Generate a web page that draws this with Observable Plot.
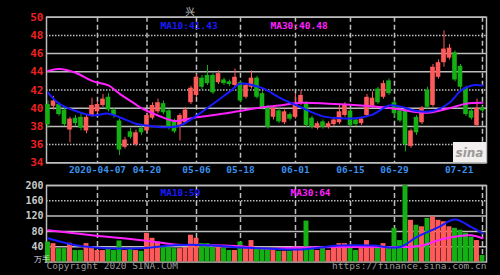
<!DOCTYPE html>
<html><head><meta charset="utf-8">
<script src="https://cdn.jsdelivr.net/npm/d3@7"></script>
<script src="https://cdn.jsdelivr.net/npm/@observablehq/plot@0.6"></script>
<style>
html,body{margin:0;padding:0;background:#000;}
#wrap{position:relative;width:500px;height:275px;overflow:hidden;background:#000;}
#main,#vol{position:absolute;left:0;}
#main{top:0}
#vol{top:175px}
#logo{position:absolute;left:453px;top:142px;width:33px;height:20px;background:#f3efef;font:italic bold 12px "DejaVu Sans",sans-serif;color:#9a9a9a;text-align:center;line-height:22px;}
</style></head><body>
<div id="wrap"><div id="main"></div><div id="vol"></div><div id="logo">sina</div></div>
<script>
const dates = ["2020-03-24","2020-03-25","2020-03-26","2020-03-27","2020-03-30","2020-03-31",
"2020-04-01","2020-04-02","2020-04-03","2020-04-07","2020-04-08","2020-04-09","2020-04-10","2020-04-13","2020-04-14","2020-04-15","2020-04-16","2020-04-17","2020-04-20","2020-04-21","2020-04-22","2020-04-23","2020-04-24","2020-04-27","2020-04-28","2020-04-29","2020-04-30",
"2020-05-06","2020-05-07","2020-05-08","2020-05-11","2020-05-12","2020-05-13","2020-05-14","2020-05-15","2020-05-18","2020-05-19","2020-05-20","2020-05-21","2020-05-22","2020-05-25","2020-05-26","2020-05-27","2020-05-28","2020-05-29",
"2020-06-01","2020-06-02","2020-06-03","2020-06-04","2020-06-05","2020-06-08","2020-06-09","2020-06-10","2020-06-11","2020-06-12","2020-06-15","2020-06-16","2020-06-17","2020-06-18","2020-06-19","2020-06-22","2020-06-23","2020-06-24","2020-06-29","2020-06-30",
"2020-07-01","2020-07-02","2020-07-03","2020-07-06","2020-07-07","2020-07-08","2020-07-09","2020-07-10","2020-07-13","2020-07-14","2020-07-15","2020-07-16","2020-07-17","2020-07-20","2020-07-21"];
const open = [40.4,40.2,40.4,39.8,37.6,38.9,39.0,37.5,39.2,39.6,
40.3,41.2,39.8,38.6,35.7,37.4,36.0,37.8,37.5,38.9,
39.6,40.5,39.7,38.6,38.1,38.4,40.6,41.4,43.3,43.6,
43.6,42.8,43.1,42.9,42.5,42.8,41.2,42.3,43.3,41.6,
40.1,39.0,39.7,38.4,39.3,39.0,40.5,40.5,38.9,37.8,
38.5,37.9,38.2,38.4,39.2,39.7,38.7,38.3,39.2,40.2,
42.1,41.2,43.0,40.6,39.7,39.8,35.8,39.0,38.4,42.0,
40.3,43.4,45.0,45.5,46.1,44.6,42.2,39.7,38.1,40.0];
const high = [40.8,41.3,40.6,40.0,39.0,39.2,39.4,39.3,41.1,40.7,
41.5,41.6,40.0,38.8,36.8,37.8,37.6,38.1,39.4,40.6,
41.0,40.8,39.9,38.8,39.4,40.1,42.4,43.7,43.6,44.7,
43.8,44.1,43.3,43.1,44.3,43.0,42.7,44.1,43.5,41.8,
40.3,40.3,40.0,39.8,39.5,41.6,41.9,40.7,39.1,38.5,
38.7,38.5,39.0,40.3,40.6,39.9,38.9,39.0,41.5,41.8,
42.3,43.0,43.2,40.8,39.9,40.0,37.7,39.2,40.2,42.3,
44.8,45.3,48.5,47.0,46.3,44.8,42.4,40.0,41.0,40.2];
const low = [37.8,39.8,39.1,38.0,36.2,38.0,37.5,37.2,39.0,39.4,
40.1,39.6,38.9,34.8,35.5,36.6,35.8,37.0,37.3,38.7,
39.4,39.3,37.6,37.2,36.4,38.2,40.4,41.2,42.0,42.5,
41.5,42.6,42.5,42.4,42.3,40.6,41.0,42.1,41.0,39.8,
37.7,38.7,38.3,38.2,38.6,38.8,40.3,37.9,37.7,37.6,
37.7,37.7,38.0,38.2,39.0,37.9,38.0,38.1,39.0,40.0,
40.4,41.0,41.4,39.0,38.4,35.2,35.6,37.0,38.2,39.9,
40.1,43.2,44.5,45.3,42.9,42.0,39.1,38.7,37.9,39.5];
const close = [38.2,40.8,39.3,38.2,38.8,38.3,37.8,39.0,40.3,40.4,
41.0,39.8,39.2,35.4,36.5,36.8,37.3,37.3,39.2,40.3,
40.6,39.5,37.9,37.4,39.2,39.8,42.2,43.4,42.3,42.7,
41.7,43.8,42.7,42.6,43.4,40.8,42.5,43.3,41.2,40.0,
37.9,40.0,38.5,39.6,38.8,40.5,41.4,38.1,37.9,38.3,
37.9,38.3,38.7,39.6,40.3,38.1,38.2,38.8,41.2,41.1,
40.6,42.7,41.6,39.4,38.6,36.0,37.5,37.3,40.0,40.1,
44.5,45.0,46.5,46.6,43.1,42.3,39.3,38.9,40.0,39.7];
const volume = [52,48,35,35,49,30,30,48,35,30,
30,36,30,55,30,35,30,28,75,62,
52,38,38,35,35,38,70,62,48,48,
38,38,35,30,30,52,35,56,38,38,
38,30,28,28,28,39,35,107,39,30,
39,30,39,48,48,39,30,35,56,39,
41,48,35,88,56,200,109,96,92,114,
118,109,105,92,88,83,75,65,56,17];

const ma10Idx = [0,2,5,8,11,13,16,18,21,24,28,33,35,39,42,46,50,53,56,59,62,64,67,70,73,75,77,79];
const ma10Val = [41.7,40.5,39.7,39.2,39.4,39.0,38.3,38.1,37.9,38.1,39.6,41.8,42.7,42.2,41.2,40.1,39.1,38.9,38.9,39.3,40.3,40.2,39.7,39.7,40.6,41.9,42.5,42.5];
const ma30Idx = [0,2,5,8,11,13,16,17,20,23,27,33,39,42,46,51,57,61,64,69,73,76,79];
const ma30Val = [44.1,44.3,43.9,43.0,42.5,41.6,40.4,40.0,39.2,38.6,39.0,39.5,40.1,40.3,40.6,40.5,40.3,40.1,39.85,39.5,40.0,40.5,40.6];
const vma10Idx = [0,5,11,17,23,29,35,40,46,53,59,64,67,71,74,77,79];
const vma10Val = [62,44,36,36,44,44,38,35,33,43,43,39,65,91,111,91,75];
const vma30Idx = [0,8,17,23,29,35,40,46,59,65,68,72,77,79];
const vma30Val = [83,70,57,46,44,41,35,38,39,39,43,61,70,62];

const priceTicks = [34,36,38,40,42,44,46,48,50];
const dottedPrice = [36,42,48];
const volTicks = [40,80,120,160,200];
const dottedVol = [160];
const tickIdx = [9,18,27,35,45,55,63,79];
const tickLabels = ["2020-04-07","04-20","05-06","05-18","06-01","06-15","06-29","07-21"];
const legendMain = ["MA10:41.43","MA30:40.48"];
const legendVol = ["MA10:59","MA30:64"];
const titleText = "兴";
const unitText = "万手";

const RED = "#ff5a5a", GREEN = "#14b014", GRID = "#bdbdbd", BLUE = "#1a1aff", MAG = "#ff22ff";
const N = dates.length;
const candles = dates.map((d, i) => ({i, date: d, o: open[i], h: high[i], l: low[i], c: close[i], v: volume[i], up: close[i] >= open[i]}));
const pts = (idx, val) => idx.map((x, j) => ({x, y: val[j]}));
const xTicks = tickIdx.map((i, j) => ({i, label: tickLabels[j]}));
const xDomain = [-0.27, N - 0.27];
const font = "'DejaVu Sans Mono', monospace";

const main = Plot.plot({
  width: 500, height: 178,
  marginTop: 16.7, marginBottom: 15.7, marginLeft: 46, marginRight: 14,
  x: {domain: xDomain, axis: null},
  y: {domain: [34, 50], axis: null},
  color: {type: "identity"},
  style: {background: "#000", fontFamily: font, fontWeight: "bold", fontSize: "11px"},
  marks: [
    Plot.ruleY(priceTicks.filter(t => !dottedPrice.includes(t)), {y: d => d, stroke: GRID, strokeWidth: 1.5}),
    Plot.ruleY(dottedPrice, {y: d => d, stroke: GRID, strokeWidth: 1.5, strokeDasharray: "1.5,1.5"}),
    Plot.ruleX(tickIdx, {x: d => d, stroke: GRID, strokeWidth: 1.5, strokeDasharray: "5,3"}),
    Plot.frame({stroke: GRID, strokeWidth: 1.5}),
    Plot.ruleX(candles, {x: "i", y1: "l", y2: "h", stroke: d => d.up ? RED : GREEN, strokeWidth: 1}),
    Plot.rect(candles, {x1: d => d.i - 0.42, x2: d => d.i + 0.42, y1: "o", y2: "c", fill: d => d.up ? RED : GREEN}),
    Plot.line(pts(ma30Idx, ma30Val), {x: "x", y: "y", stroke: MAG, strokeWidth: 2, curve: "catmull-rom"}),
    Plot.line(pts(ma10Idx, ma10Val), {x: "x", y: "y", stroke: BLUE, strokeWidth: 2, curve: "catmull-rom"}),
    Plot.text(priceTicks, {y: d => d, text: d => String(d), frameAnchor: "left", dx: -3, textAnchor: "end", fill: "#ee2020", fontSize: 11}),
    Plot.text(xTicks.slice(0, -1), {x: "i", text: "label", frameAnchor: "bottom", dy: 10, fill: "#3b8fe8", fontSize: 9.5}),
    Plot.text(xTicks.slice(-1), {x: "i", text: "label", frameAnchor: "bottom", dy: 10, dx: -9, textAnchor: "end", fill: "#3b8fe8", fontSize: 9.5}),
    Plot.text([legendMain[0]], {x: 20.45, text: d => d, frameAnchor: "top", dy: 5, textAnchor: "start", fill: BLUE, fontSize: 9.5}),
    Plot.text([legendMain[1]], {x: 40.45, text: d => d, frameAnchor: "top", dy: 5, textAnchor: "start", fill: MAG, fontSize: 9.5}),
    Plot.text([titleText], {x: 25.9, text: d => d, frameAnchor: "top", dy: -9, fill: "#c8c8c8", fontSize: 10, fontWeight: "normal"})
  ]
});
document.getElementById("main").append(main);

const vol = Plot.plot({
  width: 500, height: 100,
  marginTop: 10, marginBottom: 13.5, marginLeft: 46, marginRight: 14,
  x: {domain: xDomain, axis: null},
  y: {domain: [0, 200], axis: null},
  color: {type: "identity"},
  style: {background: "#000", fontFamily: font, fontWeight: "bold", fontSize: "10px"},
  marks: [
    Plot.ruleY(volTicks.filter(t => !dottedVol.includes(t)), {y: d => d, stroke: GRID, strokeWidth: 1.5}),
    Plot.ruleY(dottedVol, {y: d => d, stroke: GRID, strokeWidth: 1.5, strokeDasharray: "1.5,1.5"}),
    Plot.ruleX(tickIdx, {x: d => d, stroke: GRID, strokeWidth: 1.5, strokeDasharray: "5,3"}),
    Plot.frame({stroke: GRID, strokeWidth: 1.5}),
    Plot.rectY(candles, {x1: d => d.i - 0.45, x2: d => d.i + 0.45, y: "v", fill: d => d.up ? RED : GREEN}),
    Plot.line(pts(vma30Idx, vma30Val), {x: "x", y: "y", stroke: MAG, strokeWidth: 2, curve: "catmull-rom"}),
    Plot.line(pts(vma10Idx, vma10Val), {x: "x", y: "y", stroke: BLUE, strokeWidth: 2, curve: "catmull-rom"}),
    Plot.text(volTicks, {y: d => d, text: d => String(d), frameAnchor: "left", dx: -3, textAnchor: "end", fill: "#c8c8c8", fontSize: 10}),
    Plot.text([unitText], {text: d => d, frameAnchor: "bottom-left", dx: -13, dy: 0, fill: "#e0e0e0", fontSize: 8, fontWeight: "normal"}),
    Plot.text([legendVol[0]], {x: 20.45, text: d => d, frameAnchor: "top", dy: 3.5, textAnchor: "start", fill: BLUE, fontSize: 9.5}),
    Plot.text([legendVol[1]], {x: 44.1, text: d => d, frameAnchor: "top", dy: 3.5, textAnchor: "start", fill: MAG, fontSize: 9.5}),
    Plot.text(["Copyright 2020 SINA.COM"], {text: d => d, frameAnchor: "bottom-left", dy: 6.5, textAnchor: "start", fill: "#9a9a9a", fontSize: 9.5, fontWeight: "normal"}),
    Plot.text(["https://finance.sina.com.cn"], {text: d => d, frameAnchor: "bottom-right", dy: 6.5, textAnchor: "end", fill: "#9a9a9a", fontSize: 9.5, fontWeight: "normal"})
  ]
});
document.getElementById("vol").append(vol);
</script>
</body></html>
